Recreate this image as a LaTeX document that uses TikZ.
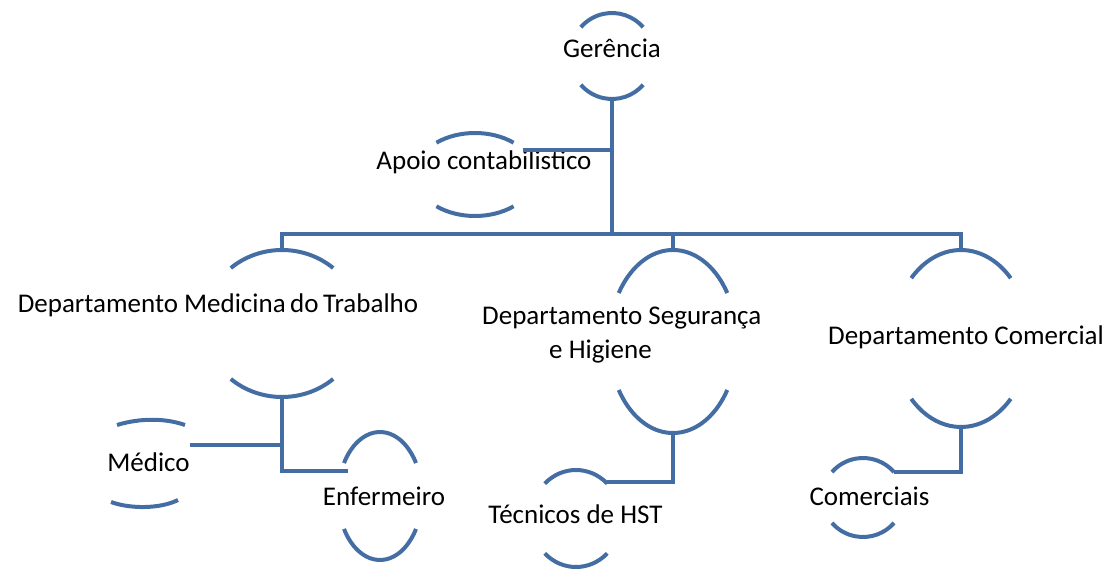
\documentclass[tikz,border=0pt]{standalone}
\usepackage{fontspec}
\setmainfont{Carlito}
\usetikzlibrary{shapes.geometric,calc}
\definecolor{linec}{RGB}{68,110,163}
\tikzset{
  shp/.style={ellipse,draw=none,inner sep=0pt,outer sep=0pt},
  arcline/.style={draw=linec,line width=4pt},
  conn/.style={draw=linec,line width=4pt},
  lbl/.style={font=\fontsize{27}{34}\selectfont,inner sep=0pt,text=black},
}
\newcommand\twoarcs[4]{%
  \draw[arcline] ([shift={(#4:#2pt and #3pt)}]#1.center) arc[start angle=#4, end angle=180-#4, x radius=#2pt, y radius=#3pt];
  \draw[arcline] ([shift={(-#4:#2pt and #3pt)}]#1.center) arc[start angle=-#4, end angle=-180+#4, x radius=#2pt, y radius=#3pt];
}
\begin{document}
\begin{tikzpicture}[x=1pt,y=-1pt]
\useasboundingbox (0,0) rectangle (1109,569);
% shapes
\node[shp,minimum width=84pt,minimum height=86pt] (g) at (612,56) {};
\node[shp,minimum width=120pt,minimum height=83pt] (ap) at (475,174.5) {};
\node[shp,minimum width=156pt,minimum height=147pt] (dm) at (282,323.5) {};
\node[shp,minimum width=128pt,minimum height=183pt] (ds) at (673,341.5) {};
\node[shp,minimum width=136pt,minimum height=177pt] (dc) at (961,338.5) {};
\node[shp,minimum width=144pt,minimum height=87pt] (me) at (148,463.5) {};
\node[shp,minimum width=84pt,minimum height=128pt] (en) at (380,496) {};
\node[shp,minimum width=90pt,minimum height=97pt] (te) at (576,518.5) {};
\node[shp,minimum width=81pt,minimum height=79pt] (co) at (863,497.5) {};
\twoarcs{g}{42}{43}{42}
\twoarcs{ap}{60}{41.5}{50}
\twoarcs{dm}{78}{73.5}{49}
\twoarcs{ds}{64}{91.5}{32}
\twoarcs{dc}{68}{88.5}{43}
\draw[arcline] (117,425) .. controls (140,418) and (165,418) .. (185,425);
\draw[arcline] (111,502) .. controls (130,509) and (160,509) .. (178,500);
\twoarcs{en}{42}{64}{31}
\twoarcs{te}{45}{48.5}{46}
\twoarcs{co}{40.5}{39.5}{40}
% texts
\node[lbl] (gT) at (612,48) {Gerência};
\node[lbl] (apT) at (484,162) {Apoio contabilistico};
\node[lbl] (dmT) at (218,305) {Departamento Medicina\,do\,Trabalho};
\node[lbl,align=left,anchor=west] (dsT) at (482,335) {Departamento Segurança\\\hspace*{67pt}e Higiene};
\node[lbl] (dcT) at (966,337) {Departamento Comercial};
\node[lbl] (meT) at (148.5,462) {Médico};
\node[lbl] (enT) at (384,496) {Enfermeiro};
\node[lbl] (teT) at (575.5,514) {Técnicos de HST};
\node[lbl] (coT) at (869.5,496) {Comerciais};
% connection points
\coordinate (bus) at (612,234);
\coordinate (apC) at ([shift={(48pt,24.5pt)}]ap.center);
\coordinate (meC) at ([shift={(42pt,18.5pt)}]me.center);
\coordinate (enC) at ([shift={(-32pt,25pt)}]en.center);
\coordinate (teC) at ([shift={(31pt,36.5pt)}]te.center);
\coordinate (coC) at ([shift={(31pt,25.5pt)}]co.center);
% connectors
\draw[conn] (g.south) -- (bus);
\draw[conn] (apC) -- (apC -| g.south);
\draw[conn] (dm.north) -- (dm.north |- bus) -- (dc.north |- bus) -- (dc.north);
\draw[conn] (ds.north) -- (ds.north |- bus);
\draw[conn] (dm.south) |- (enC);
\draw[conn] (meC) -- (meC -| dm.south);
\draw[conn] (ds.south) |- (teC);
\draw[conn] (dc.south) |- (coC);
\end{tikzpicture}
\end{document}
